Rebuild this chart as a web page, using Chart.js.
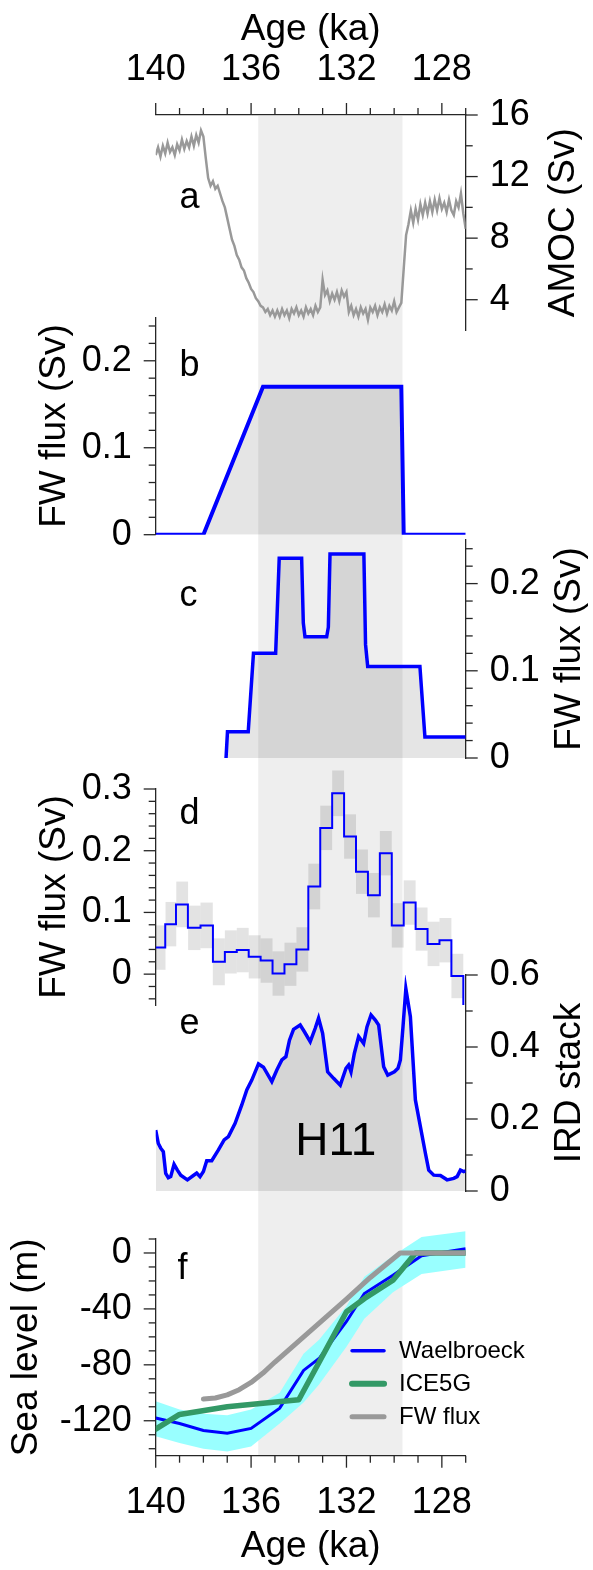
<!DOCTYPE html>
<html>
<head>
<meta charset="utf-8">
<script src="https://cdn.jsdelivr.net/npm/chart.js"></script>
<style>
  body { margin: 0; background: #fff; }
  .wrap { position: relative; width: 593px; height: 1570px; }
  canvas { position: absolute; left: 0; top: 0; }
</style>
</head>
<body>
<div class="wrap">
  <canvas id="pa" width="593" height="1570"></canvas>
  <canvas id="pb" width="593" height="1570"></canvas>
  <canvas id="pc" width="593" height="1570"></canvas>
  <canvas id="pd" width="593" height="1570"></canvas>
  <canvas id="pe" width="593" height="1570"></canvas>
  <canvas id="pfBand" width="593" height="1570"></canvas>
  <canvas id="pf" width="593" height="1570"></canvas>
</div>
<script>
// shared age axis (ka), H11 shading
const ageMin = 127
const ageMax = 140
const bandStart = 135.7
const bandEnd = 129.65

// a: AMOC (Sv), one value every 0.1 ka from 140 ka
const amocStart = 140
const amocStep = 0.1
const amocSv = [
  13.4, 13.9, 13.3, 14.0, 13.5, 14.2, 13.6, 13.9, 13.4, 14.1, 13.7, 14.4, 13.8, 14.3, 13.9, 14.6, 14.0, 14.7, 14.2, 15.0, 14.6,
  13.2, 11.9, 11.4, 11.7, 11.2, 11.4, 10.9, 10.4, 10.0, 9.3, 8.6, 7.9, 7.5, 6.9, 6.6, 6.1, 5.9, 5.4, 5.1, 4.7, 4.5, 4.1, 3.9, 3.6, 3.5, 3.2, 3.4, 3.0, 3.3, 2.9,
  3.3, 2.9, 3.4, 3.0, 3.3, 2.8, 3.4, 3.1, 3.5, 3.0, 3.3, 2.9, 3.5, 3.1, 3.4, 3.0, 3.6, 3.2, 3.5,
  5.3, 4.3, 4.6, 3.9, 4.4, 4.0, 4.5, 3.9, 4.6, 4.2, 4.5,
  3.2, 3.6, 3.0, 3.4, 2.9, 3.5, 3.1, 3.4, 2.7, 3.5, 3.2, 3.6, 3.0, 3.5, 3.2, 3.7, 3.1, 3.6, 3.3, 3.9, 3.2, 3.5,
  3.8, 6.0, 8.2, 8.9, 9.8, 9.0, 9.9, 9.2, 10.2, 9.5, 10.3, 9.6, 10.4, 9.7, 10.5, 9.8, 10.6, 9.9, 10.3, 9.7, 10.5, 9.8, 9.5, 10.4, 10.0, 10.9, 9.6, 8.6
]

// b: idealised FW flux (Sv)
const bAge = [140, 138, 135.5, 129.7, 129.6, 127]
const bFlux = [0, 0, 0.17, 0.17, 0, 0]

// c: FW flux scenario (Sv)
const cAge = [137.05, 136.99, 136.12, 135.9, 134.97, 134.82, 133.88, 133.81, 133.74, 132.83, 132.76, 132.69, 131.27, 131.2, 131.11, 128.92, 128.71, 127]
const cFlux = [0, 0.03, 0.03, 0.12, 0.12, 0.229, 0.229, 0.155, 0.139, 0.139, 0.15, 0.234, 0.234, 0.13, 0.105, 0.105, 0.024, 0.024]

// d: stepped FW flux (Sv) with uncertainty
const dEdges = [140, 139.6, 139.15, 138.65, 138.12, 137.6, 137.1, 136.6, 136.1, 135.6, 135.1, 134.6, 134.1, 133.6, 133.1, 132.6, 132.1, 131.6, 131.1, 130.6, 130.1, 129.6, 129.1, 128.6, 128.1, 127.6, 127.1, 127.0]
const dFlux = [0.043, 0.081, 0.113, 0.075, 0.079, 0.020, 0.036, 0.039, 0.028, 0.022, 0.001, 0.016, 0.040, 0.142, 0.237, 0.293, 0.223, 0.166, 0.128, 0.196, 0.079, 0.116, 0.073, 0.049, 0.055, -0.003, -0.07]
const dErr = [0.036, 0.036, 0.037, 0.036, 0.037, 0.038, 0.035, 0.036, 0.035, 0.036, 0.036, 0.035, 0.036, 0.037, 0.036, 0.037, 0.036, 0.036, 0.036, 0.036, 0.036, 0.036, 0.035, 0.036, 0.036, 0.036]

// e: IRD stack
const eAge = [140.0, 139.89, 139.79, 139.68, 139.58, 139.47, 139.37, 139.23, 139.09, 138.95, 138.67, 138.42, 138.28, 138.14, 138.0, 137.86, 137.65, 137.37, 137.13, 136.95, 136.67, 136.39, 136.18, 135.97, 135.69, 135.48, 135.13, 134.92, 134.71, 134.54, 134.39, 134.22, 133.94, 133.77, 133.52, 133.31, 133.17, 133.0, 132.79, 132.54, 132.26, 132.02, 131.91, 131.81, 131.67, 131.49, 131.28, 131.14, 130.97, 130.79, 130.65, 130.44, 130.27, 129.99, 129.84, 129.74, 129.63, 129.51, 129.32, 129.11, 128.9, 128.69, 128.55, 128.34, 128.06, 127.78, 127.5, 127.36, 127.22, 127.08, 127.0]
const eIrd = [0.169, 0.132, 0.119, 0.109, 0.049, 0.037, 0.040, 0.074, 0.058, 0.044, 0.031, 0.043, 0.050, 0.040, 0.054, 0.084, 0.084, 0.114, 0.142, 0.151, 0.188, 0.239, 0.281, 0.308, 0.353, 0.344, 0.304, 0.336, 0.364, 0.373, 0.419, 0.449, 0.461, 0.443, 0.415, 0.452, 0.480, 0.438, 0.331, 0.313, 0.294, 0.341, 0.350, 0.331, 0.382, 0.429, 0.410, 0.456, 0.489, 0.475, 0.461, 0.345, 0.322, 0.331, 0.341, 0.364, 0.456, 0.562, 0.484, 0.253, 0.179, 0.105, 0.058, 0.044, 0.043, 0.031, 0.035, 0.040, 0.058, 0.054, 0.056]

// f: sea level (m)
const wAge = [140, 139, 138, 137, 136, 134.8, 133.8, 133.15, 132, 131.25, 130.05, 128.85, 127]
const wSea = [-118, -122, -127, -129, -125.5, -111, -84, -75.5, -49, -29, -16, -2, 3]
const wUpper = [-106, -112, -115, -116, -112, -100, -72, -62, -38, -17, -2, 11.5, 15.5]
const wLower = [-131, -136, -140, -142, -138.5, -122, -107, -94, -67, -47, -28, -15, -10.5]
const gAge = [140, 139, 137, 134, 132, 131.24, 130.05, 129.1, 127]
const gSea = [-126, -115.5, -110, -105, -42, -32.5, -19.5, 0, 0]
const fAge = [138, 137.5, 137, 136.5, 136, 135.5, 135, 134, 133, 132, 131, 129.75, 127]
const fSea = [-104.5, -103.7, -101.5, -97.8, -92.6, -85.9, -78, -63, -48, -33, -17.5, 0, 0]

// page layout
const W = 593
const H = 1570
const plotL = 155.7
const plotR = 465.7
const fTop = 1239
const fBottom = 1455.7
const fMin = -145
const fMax = 10
const ink = '#000'
const axisClr = '#262626'
const family = '"Liberation Sans", Arial, sans-serif'
const blue = '#0000ff'
const shade = 'rgba(0,0,0,0.1)'

const pts = (xs, ys) => xs.map((x, i) => ({ x, y: ys[i] }))

const amocAge = amocSv.map((_, i) => Math.round((amocStart - i * amocStep) * 100) / 100)

const dLine = dFlux.map((v, i) => ({ x: dEdges[i], y: v }))
dLine.push({ x: dEdges[dEdges.length - 1], y: dFlux[dFlux.length - 1] })
const dBars = dErr.map((e, i) => ({ x: (dEdges[i] + dEdges[i + 1]) / 2, y: [dFlux[i] - e, dFlux[i] + e] }))

function drawMarks(chart, marks) {
  const ctx = chart.ctx
  const a = chart.chartArea
  ctx.save()
  ctx.strokeStyle = axisClr
  ctx.lineWidth = 1.3
  marks.forEach((m) => {
    const s = chart.scales[m.axis]
    const n = Math.round((m.to - m.from) / m.step)
    for (let k = 0; k <= n; k++) {
      const v = m.from + k * m.step
      const len = Math.abs(v / m.major - Math.round(v / m.major)) < 1e-6 ? 12 : 7
      const p = s.getPixelForValue(v)
      ctx.beginPath()
      if (m.side === 'left') { ctx.moveTo(a.left, p); ctx.lineTo(a.left - len, p) }
      if (m.side === 'right') { ctx.moveTo(a.right, p); ctx.lineTo(a.right + len, p) }
      if (m.side === 'top') { ctx.moveTo(p, a.top); ctx.lineTo(p, a.top - len) }
      if (m.side === 'bottom') { ctx.moveTo(p, a.bottom); ctx.lineTo(p, a.bottom + len) }
      ctx.stroke()
    }
  })
  ctx.restore()
}

function drawNotes(chart, p) {
  const ctx = chart.ctx
  const xs = chart.scales.x
  const ys = chart.scales.y
  const a = chart.chartArea
  ctx.save()
  ctx.fillStyle = ink
  ctx.textBaseline = 'alphabetic'
  ;(p.notes || []).forEach((n) => {
    ctx.font = `${n.size || 36}px ${family}`
    ctx.textAlign = n.align || 'left'
    ctx.fillText(n.text, xs.getPixelForValue(n.x), ys.getPixelForValue(n.y))
  })
  if (p.rightTitle) {
    ctx.translate(a.right + p.rightTitle.dx, (a.top + a.bottom) / 2)
    ctx.rotate(-Math.PI / 2)
    ctx.font = `37px ${family}`
    ctx.textAlign = 'center'
    ctx.textBaseline = 'middle'
    ctx.fillText(p.rightTitle.text, 0, 0)
  }
  ctx.restore()
  if (p.legend) {
    const lg = p.legend
    const x0 = xs.getPixelForValue(lg.x)
    const y0 = ys.getPixelForValue(lg.y)
    ctx.save()
    ctx.font = `24px ${family}`
    ctx.textAlign = 'left'
    ctx.textBaseline = 'alphabetic'
    lg.items.forEach((it, i) => {
      const y = y0 + i * lg.gap
      ctx.strokeStyle = it.color
      ctx.lineWidth = it.width
      ctx.lineCap = 'round'
      ctx.beginPath()
      ctx.moveTo(x0 + 2, y)
      ctx.lineTo(x0 + 34, y)
      ctx.stroke()
      ctx.fillStyle = ink
      ctx.fillText(it.label, x0 + 49, y + 7.6)
    })
    ctx.restore()
  }
}

function drawBand(chart) {
  const ctx = chart.ctx
  const xs = chart.scales.x
  const a = chart.chartArea
  const x1 = xs.getPixelForValue(bandStart)
  const x2 = xs.getPixelForValue(bandEnd)
  ctx.save()
  ctx.fillStyle = 'rgba(0,0,0,0.067)'
  ctx.fillRect(x1, a.top + 1, x2 - x1, fBottom - a.top - 1)
  ctx.restore()
}

function makePanel(id, p) {
  const tickFont = { family, size: 36 }
  const titleFont = { family, size: 37 }
  const xShown = !!p.xPos
  const xScale = {
    type: 'linear',
    reverse: true,
    min: ageMin,
    max: ageMax,
    offset: false,
    display: xShown,
    position: p.xPos || 'bottom',
    grid: { display: false, drawTicks: false },
    border: { display: xShown, color: axisClr, width: 1.3 },
    ticks: { stepSize: 4, includeBounds: false, autoSkip: false, maxRotation: 0, padding: p.xPos === 'top' ? 23 : 26, color: ink, font: tickFont },
    title: { display: xShown, text: 'Age (ka)', color: ink, font: titleFont, padding: p.xPos === 'top' ? { top: 8 } : { bottom: 1 } },
  }
  if (xShown) xScale.afterFit = (s) => { s.height = p.xPos === 'top' ? p.top : H - p.bottom }

  const yScale = {
    type: 'linear',
    position: p.side,
    min: p.yMin,
    max: p.yMax,
    grid: { display: false, drawTicks: false },
    border: { display: true, color: axisClr, width: 1.3 },
    ticks: { stepSize: p.yStep, includeBounds: false, autoSkip: false, padding: 24, color: ink, font: tickFont },
    title: p.side === 'left'
      ? { display: true, text: p.yTitle, color: ink, font: titleFont, padding: { top: p.titlePad } }
      : { display: false },
    afterFit: (s) => { s.width = p.side === 'left' ? plotL : W - plotR },
  }

  const decor = {
    id: 'decor',
    beforeDatasetsDraw(chart) { if (p.band) drawBand(chart) },
    afterDraw(chart) {
      drawMarks(chart, p.marks)
      drawNotes(chart, p)
    },
  }

  return new Chart(document.getElementById(id), {
    type: 'line',
    data: { datasets: p.datasets },
    options: {
      responsive: false,
      animation: false,
      events: [],
      locale: 'en-US',
      layout: {
        padding: {
          left: p.side === 'left' ? 0 : plotL,
          right: p.side === 'right' ? 0 : W - plotR,
          top: p.xPos === 'top' ? 0 : p.top,
          bottom: p.xPos === 'bottom' ? 0 : H - p.bottom,
        },
      },
      elements: { point: { radius: 0 }, line: { tension: 0 } },
      scales: { x: xScale, y: yScale },
      plugins: { legend: { display: false }, tooltip: { enabled: false } },
    },
    plugins: [decor],
  })
}

makePanel('pa', {
  top: 115, bottom: 330.5, side: 'right', xPos: 'top', band: true,
  yMin: 2, yMax: 16, yStep: 4,
  rightTitle: { text: 'AMOC (Sv)', dx: 98 },
  marks: [
    { axis: 'x', side: 'top', from: 127, to: 140, step: 1, major: 4 },
    { axis: 'y', side: 'right', from: 4, to: 16, step: 2, major: 4 },
  ],
  notes: [{ text: 'a', x: 139.0, y: 9.94 }],
  datasets: [{ data: pts(amocAge, amocSv), borderColor: '#999999', borderWidth: 2.5, fill: false }],
})

makePanel('pb', {
  top: 317.3, bottom: 534.7, side: 'left',
  yMin: 0, yMax: 0.25, yStep: 0.1, yTitle: 'FW flux (Sv)', titlePad: 33,
  marks: [{ axis: 'y', side: 'left', from: 0, to: 0.24, step: 0.02, major: 0.1 }],
  notes: [{ text: 'b', x: 139.0, y: 0.182 }],
  datasets: [{ data: pts(bAge, bFlux), borderColor: blue, borderWidth: 4, fill: 'origin', backgroundColor: shade }],
})

makePanel('pc', {
  top: 540, bottom: 758, side: 'right',
  yMin: 0, yMax: 0.25, yStep: 0.1,
  rightTitle: { text: 'FW flux (Sv)', dx: 104.5 },
  marks: [{ axis: 'y', side: 'right', from: 0, to: 0.24, step: 0.02, major: 0.1 }],
  notes: [{ text: 'c', x: 139.0, y: 0.174 }],
  datasets: [{ data: pts(cAge, cFlux), borderColor: blue, borderWidth: 3.5, fill: 'origin', backgroundColor: shade }],
})

makePanel('pd', {
  top: 789, bottom: 1005, side: 'left',
  yMin: -0.05, yMax: 0.3, yStep: 0.1, yTitle: 'FW flux (Sv)', titlePad: 33,
  marks: [{ axis: 'y', side: 'left', from: -0.04, to: 0.3, step: 0.02, major: 0.1 }],
  notes: [{ text: 'd', x: 139.0, y: 0.244 }],
  datasets: [
    { data: dLine, borderColor: blue, borderWidth: 2, stepped: true, fill: false },
    {
      type: 'bar', data: dBars, backgroundColor: 'rgba(0,0,0,0.11)', borderWidth: 0, clip: false,
      barPercentage: 1, categoryPercentage: 1, barThickness: 'flex', inflateAmount: 0,
    },
  ],
})

makePanel('pe', {
  top: 975, bottom: 1191, side: 'right',
  yMin: 0, yMax: 0.6, yStep: 0.2,
  rightTitle: { text: 'IRD stack', dx: 104.5 },
  marks: [{ axis: 'y', side: 'right', from: 0, to: 0.6, step: 0.1, major: 0.2 }],
  notes: [
    { text: 'e', x: 139.0, y: 0.435 },
    { text: 'H11', x: 132.45, y: 0.1, size: 46, align: 'center' },
  ],
  datasets: [{ data: pts(eAge, eIrd), borderColor: blue, borderWidth: 3.5, fill: 'origin', backgroundColor: shade }],
})

// Waelbroeck uncertainty band: own layer with the same metres-per-pixel as panel f,
// but with some headroom so the band can run above the axis top as in the original
const headroom = 14
const fMaxRoom = fMax + headroom * (fMax - fMin) / (fBottom - fTop)
new Chart(document.getElementById('pfBand'), {
  type: 'line',
  data: {
    datasets: [
      { data: pts(wAge, wUpper), borderColor: 'rgba(0,0,0,0)', borderWidth: 1, fill: '+1', backgroundColor: '#99ffff' },
      { data: pts(wAge, wLower), borderColor: 'rgba(0,0,0,0)', borderWidth: 1, fill: false },
    ],
  },
  options: {
    responsive: false,
    animation: false,
    events: [],
    layout: { padding: { left: plotL, right: W - plotR, top: fTop - headroom, bottom: H - fBottom } },
    elements: { point: { radius: 0 }, line: { tension: 0 } },
    scales: {
      x: { type: 'linear', reverse: true, min: ageMin, max: ageMax, display: false },
      y: { type: 'linear', min: fMin, max: fMaxRoom, display: false },
    },
    plugins: { legend: { display: false }, tooltip: { enabled: false } },
  },
})

makePanel('pf', {
  top: fTop, bottom: fBottom, side: 'left', xPos: 'bottom',
  yMin: fMin, yMax: fMax, yStep: 40, yTitle: 'Sea level (m)', titlePad: 5,
  marks: [
    { axis: 'y', side: 'left', from: -140, to: 10, step: 10, major: 40 },
    { axis: 'x', side: 'bottom', from: 127, to: 140, step: 1, major: 4 },
  ],
  notes: [{ text: 'f', x: 139.09, y: -18.8 }],
  legend: {
    x: 131.85, y: -70, gap: 33,
    items: [
      { label: 'Waelbroeck', color: blue, width: 3.5 },
      { label: 'ICE5G', color: '#339966', width: 6 },
      { label: 'FW flux', color: '#999999', width: 5 },
    ],
  },
  datasets: [
    { data: pts(fAge, fSea), borderColor: '#999999', borderWidth: 5, borderCapStyle: 'round', borderJoinStyle: 'round', fill: false },
    { data: pts(gAge, gSea), borderColor: '#339966', borderWidth: 5.5, borderCapStyle: 'round', borderJoinStyle: 'round', fill: false },
    { data: pts(wAge, wSea), borderColor: blue, borderWidth: 3, fill: false },
  ],
})
</script>
</body>
</html>
